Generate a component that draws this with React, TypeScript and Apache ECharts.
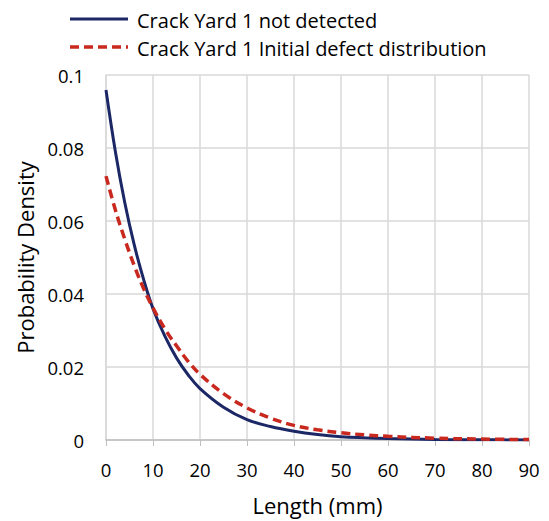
import React, { useEffect, useRef } from "react";
import * as echarts from "echarts";

const lengths = [0, 2, 4, 6, 8, 10, 12.5, 15, 17.5, 20, 25, 30, 35, 40, 45, 50, 55, 60, 70, 80, 90];
const notDetected = [0.0959, 0.079, 0.065, 0.0535, 0.044, 0.036, 0.0285, 0.0225, 0.0178, 0.0141, 0.009, 0.0056, 0.0037, 0.0024, 0.0015, 0.0009, 0.0006, 0.0004, 0.00015, 0.00006, 0.00002];
const initialDefect = [0.0723, 0.063, 0.055, 0.0478, 0.0415, 0.0362, 0.0305, 0.0258, 0.0215, 0.018, 0.0127, 0.0088, 0.006, 0.004, 0.0028, 0.002, 0.0014, 0.001, 0.0005, 0.00025, 0.00012];
const seriesNames = ["Crack Yard 1 not detected", "Crack Yard 1 Initial defect distribution"];

const FONT = "Open Sans";
const BLUE = "#1C2766";
const RED = "#C8281E";

export default function App() {
  const ref = useRef<HTMLDivElement>(null);
  useEffect(() => {
    const chart = echarts.init(ref.current!, null, { renderer: "svg" });
    chart.setOption({
      animation: false,
      textStyle: { fontFamily: FONT },
      graphic: [
        { type: "line", shape: { x1: 70, y1: 19, x2: 128, y2: 19 }, style: { stroke: BLUE, lineWidth: 3 } },
        { type: "text", x: 137, y: 20, style: { text: seriesNames[0], fontFamily: FONT, fontSize: 20, fill: "#000", verticalAlign: "middle" } },
        { type: "line", shape: { x1: 70, y1: 47, x2: 128, y2: 47 }, style: { stroke: RED, lineWidth: 3.5, lineDash: [9, 5] } },
        { type: "text", x: 137, y: 48, style: { text: seriesNames[1], fontFamily: FONT, fontSize: 20, fill: "#000", verticalAlign: "middle" } },
      ],
      grid: { left: 106, right: 20, top: 75, bottom: 79 },
      xAxis: {
        type: "value",
        min: 0,
        max: 90,
        interval: 10,
        name: "Length (mm)",
        nameLocation: "middle",
        nameGap: 54,
        nameTextStyle: { fontFamily: FONT, fontSize: 22, color: "#000" },
        axisLine: { show: true, lineStyle: { color: "#BFBFBF", width: 1.5 } },
        axisTick: { show: true, length: 6, lineStyle: { color: "#BFBFBF" } },
        axisLabel: { fontFamily: FONT, fontSize: 18.5, color: "#000", margin: 20 },
        splitLine: { show: true, lineStyle: { color: "#D9D9D9", width: 1.5 } },
      },
      yAxis: {
        type: "value",
        min: 0,
        max: 0.1,
        interval: 0.02,
        name: "Probability Density",
        nameLocation: "middle",
        nameGap: 70,
        nameTextStyle: { fontFamily: FONT, fontSize: 22, color: "#000" },
        axisLine: { show: true, lineStyle: { color: "#D9D9D9", width: 1.5 } },
        axisTick: { show: false },
        axisLabel: { fontFamily: FONT, fontSize: 18.5, color: "#000", margin: 22 },
        splitLine: { show: true, lineStyle: { color: "#D9D9D9", width: 1.5 } },
      },
      series: [
        {
          name: seriesNames[0],
          type: "line",
          smooth: 0.4,
          showSymbol: false,
          symbol: "none",
          data: lengths.map((x, i) => [x, notDetected[i]]),
          lineStyle: { color: BLUE, width: 3 },
          itemStyle: { color: BLUE },
          z: 3,
        },
        {
          name: seriesNames[1],
          type: "line",
          smooth: 0.4,
          showSymbol: false,
          symbol: "none",
          data: lengths.map((x, i) => [x, initialDefect[i]]),
          lineStyle: { color: RED, width: 3.5, type: [9, 5] },
          itemStyle: { color: RED },
          z: 4,
        },
      ],
    });
    return () => chart.dispose();
  }, []);
  return <div ref={ref} style={{ width: 549, height: 521, marginLeft: -8, marginTop: -8 }} />;
}
